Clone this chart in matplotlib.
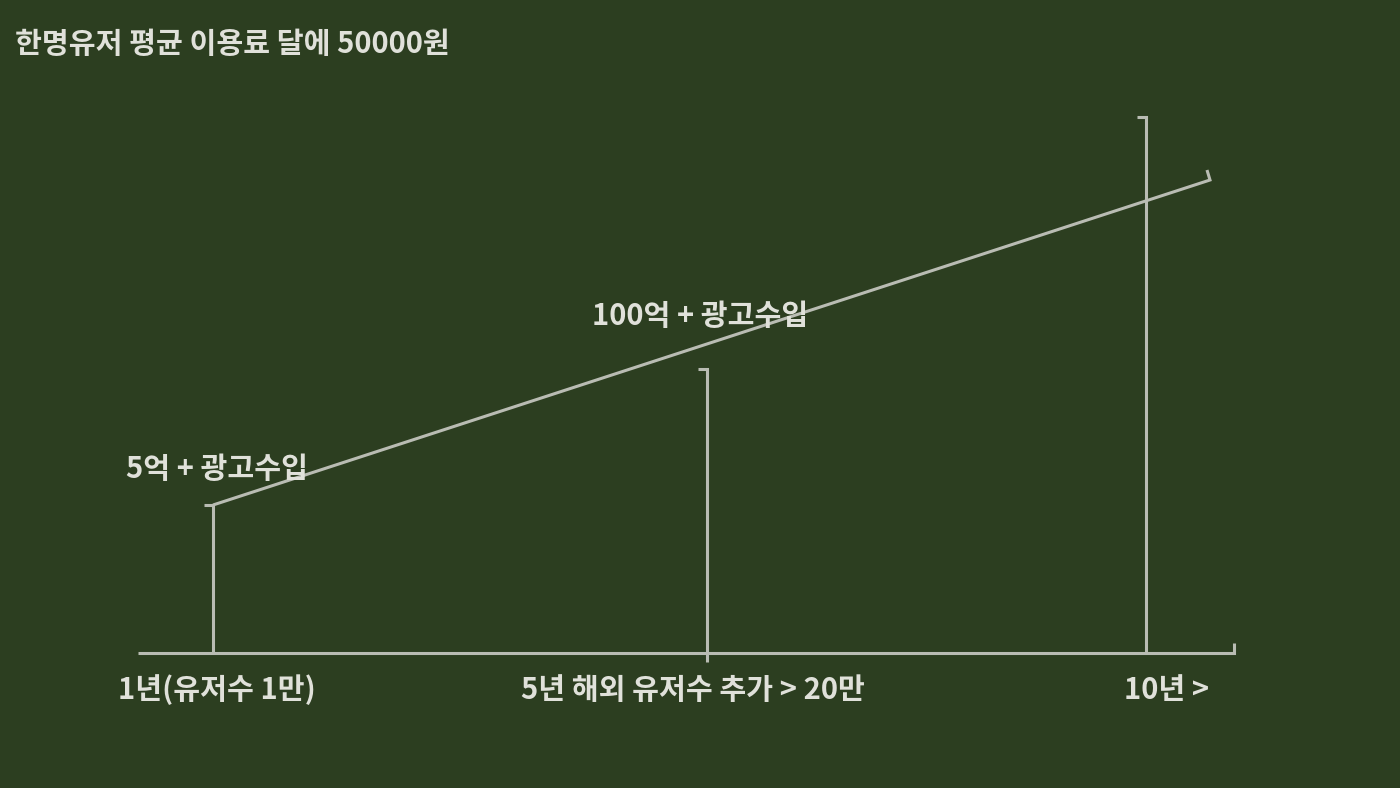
import matplotlib
matplotlib.use("Agg")
import matplotlib.pyplot as plt

plt.rcParams["font.family"] = ["Noto Sans CJK KR", "DejaVu Sans"]

bg = "#2c3e20"
line_col = "#b9bcb3"
text_col = "#e0e1da"

title = "한명유저 평균 이용료 달에 50000원"

# stages along the time axis (pixel positions)
stage_labels = ["1년(유저수 1만)", "5년 해외 유저수 추가 > 20만", "10년 >"]
stage_x = [213, 707, 1146]
stage_top = [505, 369, 117]
stage_bottom = [653, 662, 653]
stage_label_x = [118, 521, 1124]

# baseline
base_x = [138, 1234]
base_y = 653

# growth line
growth_x = [213, 1210]
growth_y = [505, 180]

# revenue notes
rev_labels = ["5억 + 광고수입", "100억 + 광고수입"]
rev_x = [126, 592]
rev_y = [469, 316]

fig = plt.figure(figsize=(14, 7.88), dpi=100, facecolor=bg)
ax = fig.add_axes([0, 0, 1, 1])
ax.set_facecolor(bg)
ax.set_xlim(0, 1400)
ax.set_ylim(788, 0)
ax.axis("off")

lw = 2.2
kw = dict(color=line_col, lw=lw, solid_capstyle="butt", solid_joinstyle="miter")

# baseline with small hook at the right end
ax.plot([base_x[0], base_x[1], base_x[1]], [base_y, base_y, base_y - 10], **kw)

# vertical stage markers with a small hook at the top
for x, top, bot in zip(stage_x, stage_top, stage_bottom):
    ax.plot([x - 9, x, x], [top, top, bot], **kw)

# growth line, hook at the end
ax.plot([growth_x[0], growth_x[1], growth_x[1] - 3],
        [growth_y[0], growth_y[1], growth_y[1] - 10], **kw)

fs = 21
ax.text(15, 44, title, color=text_col, fontsize=fs, fontweight="bold",
        ha="left", va="center")

for lab, x, y in zip(rev_labels, rev_x, rev_y):
    ax.text(x, y, lab, color=text_col, fontsize=fs, fontweight="bold",
            ha="left", va="center")

for lab, x in zip(stage_labels, stage_label_x):
    ax.text(x, 690, lab, color=text_col, fontsize=fs, fontweight="bold",
            ha="left", va="center")

fig.savefig("out.png", dpi=100, facecolor=bg)
